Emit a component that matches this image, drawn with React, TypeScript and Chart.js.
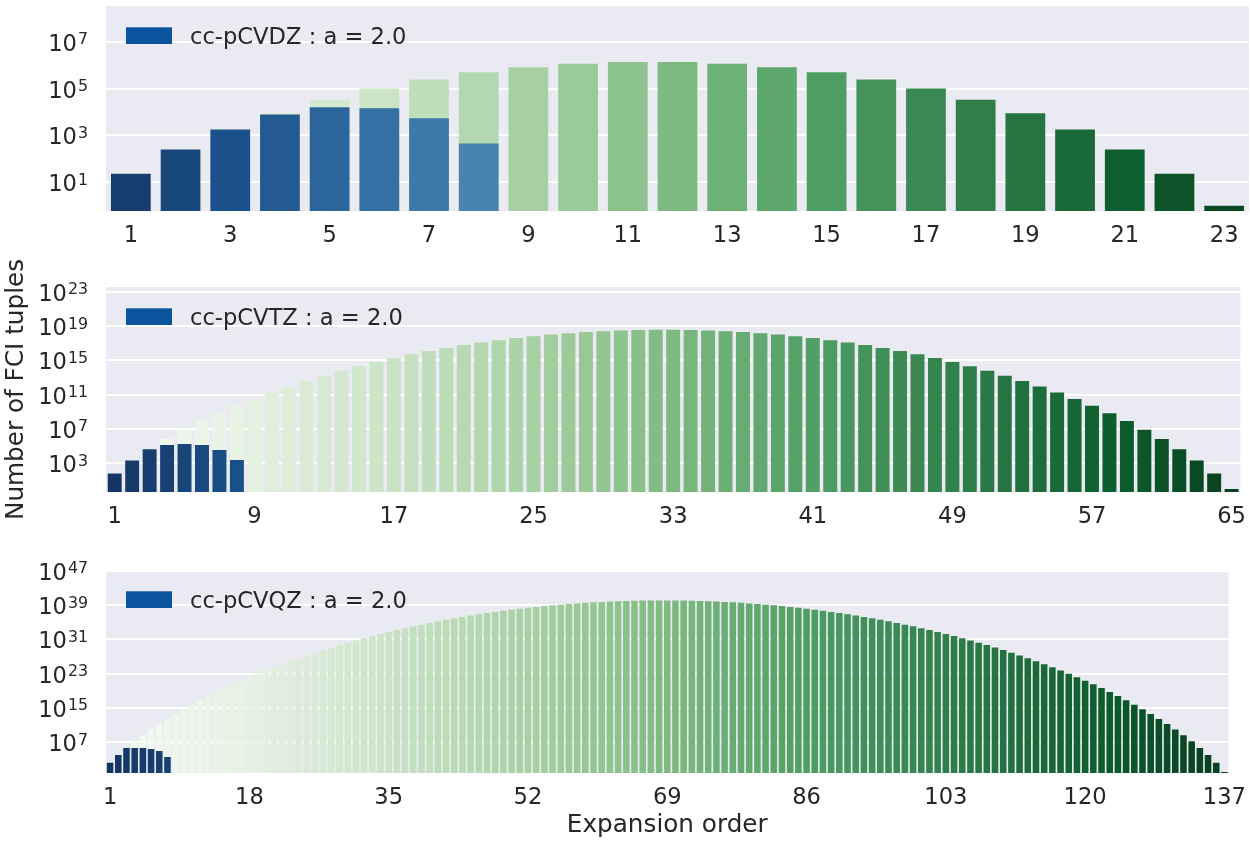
import React, { useEffect, useRef } from 'react';
import { Chart, registerables } from 'chart.js';

Chart.register(...registerables);

// ---------------- DATA ----------------
// cc-pCVDZ (orders 1..23)
const totalDZ = [23, 253, 1771, 8855, 33649, 100947, 245157, 490314, 817190, 1144066, 1352078, 1352078,
  1144066, 817190, 490314, 245157, 100947, 33649, 8855, 1771, 253, 23, 1];
const screenedDZ = [23, 253, 1771, 7900, 15800, 14500, 5400, 455];
const xTicksDZ = ['1', '3', '5', '7', '9', '11', '13', '15', '17', '19', '21', '23'];
const yExpDZ = [1, 3, 5, 7];

// cc-pCVTZ (orders 1..65)
const totalTZ = [65, 2080, 43680, 677040, 8259888, 82598880, 6.9619e8, 5.0474e9, 3.1967e10, 1.7901e11,
  8.9506e11, 4.0278e12, 1.6421e13, 6.0993e13, 2.0738e14, 6.4805e14, 1.8679e15, 4.9811e15, 1.2322e16,
  2.834e16, 6.0729e16, 1.2146e17, 2.2707e17, 3.9738e17, 6.517e17, 1.0026e18, 1.4482e18, 1.9654e18,
  2.5076e18, 3.0091e18, 3.3974e18, 3.6097e18, 3.6097e18, 3.3974e18, 3.0091e18, 2.5076e18, 1.9654e18,
  1.4482e18, 1.0026e18, 6.517e17, 3.9738e17, 2.2707e17, 1.2146e17, 6.0729e16, 2.834e16, 1.2322e16,
  4.9811e15, 1.8679e15, 6.4805e14, 2.0738e14, 6.0993e13, 1.6421e13, 4.0278e12, 8.9506e11, 1.7901e11,
  3.1967e10, 5.0474e9, 6.9619e8, 82598880, 8259888, 677040, 43680, 2080, 65, 1];
const screenedTZ = [65, 2080, 43680, 135000, 178000, 135000, 35500, 2400];
const xTicksTZ = ['1', '9', '17', '25', '33', '41', '49', '57', '65'];
const yExpTZ = [3, 7, 11, 15, 19, 23];

// cc-pCVQZ (orders 1..137)
const totalQZ = [137, 9316, 4.1922e5, 1.4044e7, 3.7357e8, 8.2186e9, 1.5381e11, 2.4994e12, 3.5825e13,
  4.5856e14, 5.2943e15, 5.559e16, 5.3452e17, 4.7343e18, 3.8821e19, 2.9601e20, 2.1069e21, 1.4046e22,
  8.7972e22, 5.1904e23, 2.8918e24, 1.5248e25, 7.6239e25, 3.6213e26, 1.6368e27, 7.0509e27, 2.8987e28,
  1.1388e29, 4.2803e29, 1.5409e30, 5.3186e30, 1.7618e31, 5.6058e31, 1.7147e32, 5.0462e32, 1.4298e33,
  3.9029e33, 1.0271e34, 2.6073e34, 6.3879e34, 1.5113e35, 3.4544e35, 7.6319e35, 1.6305e36, 3.3697e36,
  6.7394e36, 1.3049e37, 2.4467e37, 4.444e37, 7.8214e37, 1.3343e38, 2.2067e38, 3.5391e38, 5.5053e38,
  8.308e38, 1.2165e39, 1.7288e39, 2.3845e39, 3.1929e39, 4.1508e39, 5.2396e39, 6.4227e39, 7.6461e39,
  8.8408e39, 9.9289e39, 1.0832e40, 1.1478e40, 1.1816e40, 1.1816e40, 1.1478e40, 1.0832e40, 9.9289e39,
  8.8408e39, 7.6461e39, 6.4227e39, 5.2396e39, 4.1508e39, 3.1929e39, 2.3845e39, 1.7288e39, 1.2165e39,
  8.308e38, 5.5053e38, 3.5391e38, 2.2067e38, 1.3343e38, 7.8214e37, 4.444e37, 2.4467e37, 1.3049e37,
  6.7394e36, 3.3697e36, 1.6305e36, 7.6319e35, 3.4544e35, 1.5113e35, 6.3879e34, 2.6073e34, 1.0271e34,
  3.9029e33, 1.4298e33, 5.0462e32, 1.7147e32, 5.6058e31, 1.7618e31, 5.3186e30, 1.5409e30, 4.2803e29,
  1.1388e29, 2.8987e28, 7.0509e27, 1.6368e27, 3.6213e26, 7.6239e25, 1.5248e25, 2.8918e24, 5.1904e23,
  8.7972e22, 1.4046e22, 2.1069e21, 2.9601e20, 3.8821e19, 4.7343e18, 5.3452e17, 5.559e16, 5.2943e15,
  4.5856e14, 3.5825e13, 2.4994e12, 1.5381e11, 8.2186e9, 3.7357e8, 1.4044e7, 4.1922e5, 9316, 137, 1];
const screenedQZ = [137, 9316, 4.1922e5, 4.0e5, 4.0e5, 2.3e5, 8.0e4, 3200];
const xTicksQZ = ['1', '18', '35', '52', '69', '86', '103', '120', '137'];
const yExpQZ = [7, 15, 23, 31, 39, 47];

const legendDZ = 'cc-pCVDZ : a = 2.0';
const legendTZ = 'cc-pCVTZ : a = 2.0';
const legendQZ = 'cc-pCVQZ : a = 2.0';

// ---------------- STYLE ----------------
const FAMILY = "'DejaVu Sans', sans-serif";
const TEXT = '#262626';
const TICK_SIZE = 22.6;
const LABEL_SIZE = 24.7;
const GREENS = ['#f7fcf5', '#e5f5e0', '#c7e9c0', '#a1d99b', '#74c476', '#41ab5d', '#238b45', '#006d2c', '#00441b'];
const BLUES = ['#f7fbff', '#deebf7', '#c6dbef', '#9ecae1', '#6baed6', '#4292c6', '#2171b5', '#08519c', '#08306b'];

function hexRgb(h: string): number[] {
  return [parseInt(h.slice(1, 3), 16), parseInt(h.slice(3, 5), 16), parseInt(h.slice(5, 7), 16)];
}
function cmap(stops: string[], t: number): number[] {
  const x = Math.min(Math.max(t, 0), 1) * (stops.length - 1);
  const i = Math.min(Math.floor(x), stops.length - 2);
  const f = x - i;
  const a = hexRgb(stops[i]);
  const b = hexRgb(stops[i + 1]);
  return a.map((v, k) => v + (b[k] - v) * f);
}
function desaturate(c: number[], p: number): string {
  const l = (Math.max(...c) + Math.min(...c)) / 2;
  const o = c.map((v) => Math.round(l + (v - l) * p));
  return `rgb(${o[0]},${o[1]},${o[2]})`;
}
function palette(stops: string[], n: number, reverse: boolean): string[] {
  const out: string[] = [];
  for (let i = 0; i < n; i++) {
    const pos = (i + 1) / (n + 1);
    out.push(desaturate(cmap(stops, reverse ? 1 - pos : pos), 0.75));
  }
  return out;
}

const bgPlugin = {
  id: 'bg',
  beforeDraw(chart: any) {
    const { ctx, chartArea } = chart;
    ctx.save();
    ctx.fillStyle = '#EAEAF2';
    ctx.fillRect(chartArea.left, chartArea.top, chartArea.right - chartArea.left, chartArea.bottom - chartArea.top);
    ctx.restore();
  },
};

const yLabelPlugin = {
  id: 'ylab',
  afterDraw(chart: any) {
    const s = chart.scales.y;
    const ctx = chart.ctx;
    ctx.save();
    ctx.fillStyle = TEXT;
    for (const t of s.ticks) {
      const y = s.getPixelForValue(t.value);
      const e = String(Math.round(Math.log10(t.value)));
      ctx.font = `${TICK_SIZE * 0.7}px ${FAMILY}`;
      const ew = ctx.measureText(e).width;
      const ex = 88 - ew;
      ctx.textAlign = 'left';
      ctx.textBaseline = 'alphabetic';
      ctx.fillText(e, ex, y + 2.5);
      ctx.font = `${TICK_SIZE}px ${FAMILY}`;
      ctx.textAlign = 'right';
      ctx.fillText('10', ex - 1, y + 9);
    }
    ctx.restore();
  },
};

const legendPlugin = {
  id: 'customLegend',
  afterDraw(chart: any, _args: any, opts: any) {
    const { ctx, chartArea } = chart;
    const top = chartArea.top + 21.3;
    ctx.save();
    ctx.fillStyle = '#0b559f';
    ctx.fillRect(126, top, 46, 16.7);
    ctx.fillStyle = TEXT;
    ctx.font = `${TICK_SIZE}px ${FAMILY}`;
    ctx.textAlign = 'left';
    ctx.textBaseline = 'alphabetic';
    ctx.fillText(opts.text, 190, top + 16.7);
    ctx.restore();
  },
};

type PanelProps = {
  top: number;
  height: number;
  padTop: number;
  axisH: number;
  totals: number[];
  screened: number[];
  xTicks: string[];
  yExp: number[];
  yMinLog: number;
  yMaxLog: number;
  legend: string;
  yTitle?: string;
  xTitle?: string;
};

function Panel(p: PanelProps) {
  const ref = useRef<HTMLCanvasElement>(null);
  useEffect(() => {
    const n = p.totals.length;
    const labels = p.totals.map((_, i) => String(i + 1));
    const greens = palette(GREENS, n, false);
    const blues = palette(BLUES, n, true);
    const sub = labels.map((_, i) => (i < p.screened.length ? p.screened[i] : null));
    const chart = new Chart(ref.current as HTMLCanvasElement, {
      type: 'bar',
      data: {
        labels,
        datasets: [
          { data: sub as any, backgroundColor: blues, grouped: false, order: 0, categoryPercentage: 1, barPercentage: 0.8, borderWidth: 0 } as any,
          { data: p.totals, backgroundColor: greens, grouped: false, order: 1, categoryPercentage: 1, barPercentage: 0.8, borderWidth: 0 } as any,
        ],
      },
      options: {
        animation: false,
        responsive: false,
        maintainAspectRatio: false,
        events: [],
        layout: { padding: { top: p.padTop, left: 0, right: 1, bottom: 0 } },
        plugins: {
          legend: { display: false },
          tooltip: { enabled: false },
          customLegend: { text: p.legend },
        } as any,
        scales: {
          x: {
            type: 'category',
            grid: { display: false },
            border: { display: false },
            ticks: {
              autoSkip: false,
              maxRotation: 0,
              minRotation: 0,
              padding: 4,
              color: TEXT,
              font: { family: FAMILY, size: TICK_SIZE },
              callback: (_v: any, i: number) => (p.xTicks.includes(labels[i]) ? labels[i] : ''),
            },
            title: p.xTitle
              ? { display: true, text: p.xTitle, color: TEXT, font: { family: FAMILY, size: LABEL_SIZE }, padding: { top: 0, bottom: 0.5 } }
              : { display: false },
            afterFit: (s: any) => {
              s.height = p.axisH;
            },
          },
          y: {
            type: 'logarithmic',
            min: Math.pow(10, p.yMinLog),
            max: Math.pow(10, p.yMaxLog),
            grid: { color: '#ffffff', lineWidth: 2, drawTicks: false },
            border: { display: false },
            ticks: { display: false },
            afterBuildTicks: (s: any) => {
              s.ticks = p.yExp.map((e) => ({ value: Math.pow(10, e) }));
            },
            title: p.yTitle
              ? { display: true, text: p.yTitle, color: TEXT, font: { family: FAMILY, size: LABEL_SIZE }, padding: { top: 1.5, bottom: 0 } }
              : { display: false },
            afterFit: (s: any) => {
              s.width = 106;
            },
          },
        } as any,
      },
      plugins: [bgPlugin, yLabelPlugin, legendPlugin],
    });
    return () => chart.destroy();
  }, []);
  return (
    <canvas
      ref={ref}
      width={1250}
      height={p.height}
      style={{ position: 'absolute', left: 0, top: p.top, width: 1250, height: p.height, display: 'block' }}
    />
  );
}

export default function App() {
  return (
    <div style={{ position: 'absolute', left: 0, top: 0, width: 1250, height: 841, background: '#ffffff', overflow: 'hidden' }}>
      <Panel top={0} height={248} padTop={6} axisH={37} totals={totalDZ} screened={screenedDZ} xTicks={xTicksDZ}
        yExp={yExpDZ} yMinLog={-0.204} yMaxLog={8.519} legend={legendDZ} />
      <Panel top={248} height={312} padTop={39} axisH={68} totals={totalTZ} screened={screenedTZ} xTicks={xTicksTZ}
        yExp={yExpTZ} yMinLog={-0.345} yMaxLog={23.548} legend={legendTZ} yTitle="Number of FCI tuples" />
      <Panel top={560} height={281} padTop={10} axisH={68} totals={totalQZ} screened={screenedQZ} xTicks={xTicksQZ}
        yExp={yExpQZ} yMinLog={-0.241} yMaxLog={47.176} legend={legendQZ} xTitle="Expansion order" />
    </div>
  );
}
